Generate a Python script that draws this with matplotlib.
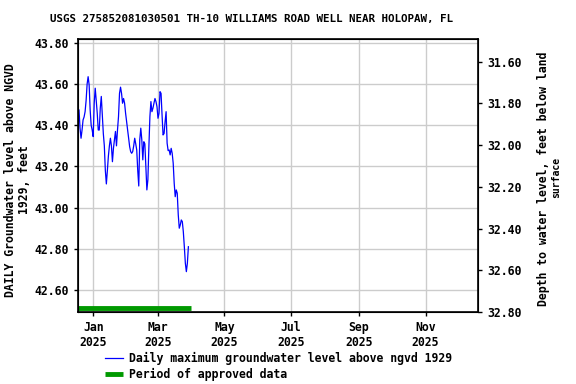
import numpy as np
import pandas as pd
import matplotlib
matplotlib.use("Agg")
import matplotlib.pyplot as plt
import matplotlib.dates as mdates

# daily max groundwater level (ft above NGVD 1929)
level = [43.45, 43.475, 43.386, 43.337, 43.377, 43.426, 43.44, 43.466, 43.52, 43.60,
         43.636, 43.596, 43.475, 43.40, 43.377, 43.345, 43.507, 43.58, 43.52, 43.458,
         43.377, 43.377, 43.483, 43.54, 43.45, 43.36, 43.30, 43.18, 43.115, 43.18,
         43.25, 43.30, 43.337, 43.30, 43.223, 43.288, 43.33, 43.37, 43.30, 43.377,
         43.442, 43.555, 43.585, 43.555, 43.507, 43.53, 43.507, 43.458, 43.418, 43.377,
         43.337, 43.296, 43.272, 43.264, 43.272, 43.30, 43.337, 43.31, 43.28, 43.18,
         43.105, 43.33, 43.386, 43.33, 43.232, 43.32, 43.31, 43.20, 43.086, 43.135,
         43.296, 43.442, 43.515, 43.466, 43.483, 43.507, 43.53, 43.515, 43.49, 43.434,
         43.458, 43.563, 43.555, 43.45, 43.353, 43.36, 43.418, 43.466, 43.313, 43.277,
         43.28, 43.256, 43.288, 43.264, 43.216, 43.118, 43.053, 43.086, 43.07, 42.965,
         42.90, 42.916, 42.94, 42.932, 42.883, 42.81, 42.73, 42.689, 42.73, 42.81]
data_start, data_end = "2024-12-18", "2025-03-29"
approved_start, approved_end = "2024-12-18", "2025-03-31"

title = "USGS 275852081030501 TH-10 WILLIAMS ROAD WELL NEAR HOLOPAW, FL"
left_label = ["DAILY Groundwater level above NGVD", "1929, feet"]
right_label = ["Depth to water level, feet below land", "surface"]
legend_labels = ["Daily maximum groundwater level above ngvd 1929",
                 "Period of approved data"]
left_ticks = [42.6, 42.8, 43.0, 43.2, 43.4, 43.6, 43.8]
right_ticks = [31.6, 31.8, 32.0, 32.2, 32.4, 32.6, 32.8]

dates = pd.date_range(data_start, data_end, periods=len(level))

plt.rcParams["font.family"] = ["DejaVu Sans Mono"]
plt.rcParams["font.weight"] = "bold"
FS = 8.3
W, H = 576, 384

fig = plt.figure(figsize=(5.76, 3.84), dpi=100)
ax = fig.add_axes([78 / W, 1 - 312 / H, 400 / W, 273 / H])

ln, = ax.plot(dates, level, color="blue", lw=0.9)
bar, = ax.plot(pd.to_datetime([approved_start, approved_end]), [42.513, 42.513],
               color="#009900", lw=3.5, solid_capstyle="butt")

ax.set_xlim(pd.Timestamp("2024-12-18"), pd.Timestamp("2025-12-19"))
ax.set_ylim(42.493, 43.819)
ax.set_yticks(left_ticks)
ax.set_yticklabels([f"{v:.2f}" for v in left_ticks])
ax.xaxis.set_major_locator(mdates.MonthLocator(bymonth=[1, 3, 5, 7, 9, 11]))
ax.xaxis.set_major_formatter(mdates.DateFormatter("%b\n%Y"))
ax.grid(True, color="#cccccc", lw=1)
ax.set_axisbelow(True)
ax.tick_params(labelsize=FS, length=3, width=1)
for s in ax.spines.values():
    s.set_linewidth(1.2)

ax2 = ax.twinx()
ax2.set_ylim(32.795, 31.491)
ax2.set_yticks(right_ticks)
ax2.set_yticklabels([f"{v:.2f}" for v in right_ticks])
ax2.tick_params(labelsize=FS, length=3, width=1)

fig.text(251.5 / W, 1 - 19 / H, title, fontsize=7.8, fontweight="bold",
         ha="center", va="center")
fig.text(11 / W, 1 - 180 / H, left_label[0], rotation=90, fontsize=FS,
         fontweight="bold", ha="center", va="center")
fig.text(24 / W, 1 - 180 / H, left_label[1], rotation=90, fontsize=FS,
         fontweight="bold", ha="center", va="center")
fig.text(543 / W, 1 - 179 / H, right_label[0], rotation=90, fontsize=FS,
         fontweight="bold", ha="center", va="center")
fig.text(556 / W, 1 - 177 / H, right_label[1], rotation=90, fontsize=7,
         fontweight="bold", ha="center", va="center")

fig.legend([ln, bar], legend_labels, loc="upper left",
           bbox_to_anchor=(100 / W, 1 - 347 / H), frameon=False,
           fontsize=FS, handlelength=1.6, handletextpad=0.5,
           borderaxespad=0, labelspacing=0.3)

fig.savefig("out.png", dpi=100)
